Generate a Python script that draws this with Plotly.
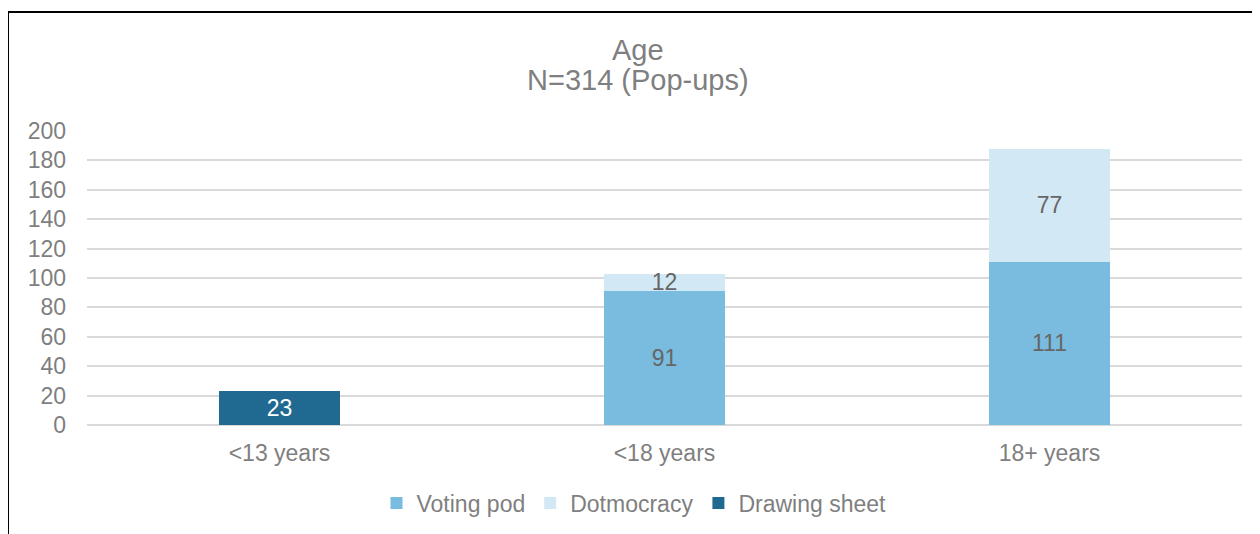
import plotly.graph_objects as go

categories = ["<13 years", "<18 years", "18+ years"]
voting_pod = [None, 91, 111]
dotmocracy = [None, 12, 77]
drawing_sheet = [23, None, None]
y_ticks = [0, 20, 40, 60, 80, 100, 120, 140, 160, 180, 200]
title_lines = ["Age", "N=314 (Pop-ups)"]

FONT = "Liberation Sans, Arial, sans-serif"
GRAY = "#7F7F7F"

fig = go.Figure()
series = [
    ("Voting pod", voting_pod, "#7ABCE0", "#666666"),
    ("Dotmocracy", dotmocracy, "#D3E8F5", "#666666"),
    ("Drawing sheet", drawing_sheet, "#206A92", "#FFFFFF"),
]
for name, vals, color, tcolor in series:
    fig.add_trace(go.Bar(
        x=categories, y=vals, name=name,
        marker=dict(color=color, line=dict(width=0)),
        text=[("" if v is None else str(v)) for v in vals],
        textposition="inside", insidetextanchor="middle",
        constraintext="none", textangle=0,
        textfont=dict(family=FONT, size=23, color=tcolor),
        hoverinfo="skip",
    ))

# page has an 8px body margin, so the figure is sized to fill the rest
W, H = 1252, 526
L, R, T, B = 79, 18, 123, 109
pw, ph = W - L - R, H - T - B

fig.update_layout(
    width=W, height=H,
    margin=dict(l=L, r=R, t=T, b=B),
    barmode="stack", bargap=0.686,
    paper_bgcolor="white", plot_bgcolor="white",
    font=dict(family=FONT, color=GRAY, size=23),
    xaxis=dict(
        showgrid=False, showline=False, ticks="",
        tickfont=dict(family=FONT, size=23, color=GRAY),
        ticklabelstandoff=12,
    ),
    yaxis=dict(
        range=[0, 200], tickvals=y_ticks,
        showgrid=True, gridcolor="#D9D9D9", gridwidth=2,
        zeroline=True, zerolinecolor="#D9D9D9", zerolinewidth=2,
        showline=False, ticks="",
        tickfont=dict(family=FONT, size=23, color=GRAY),
        ticklabelstandoff=20,
    ),
    legend=dict(
        orientation="h", traceorder="normal",
        x=0.5, xref="container", xanchor="center",
        y=1 - 495 / H, yref="container", yanchor="middle",
        font=dict(family=FONT, size=23, color=GRAY),
        itemwidth=30, itemclick=False,
    ),
    showlegend=True,
)

# two-line title placed as annotations (tighter line spacing than title)
for txt, ypix in zip(title_lines, [42, 72]):
    fig.add_annotation(
        text=txt, showarrow=False,
        xref="paper", yref="paper",
        x=(W / 2 + 4 - L) / pw, y=(H - B - ypix) / ph,
        xanchor="center", yanchor="middle",
        font=dict(family=FONT, size=29, color=GRAY),
    )

# outer chart border (left and top visible in the frame)
fig.add_shape(
    type="rect", xref="paper", yref="paper",
    x0=(0 - L) / pw, x1=(W + 20 - L) / pw,
    y0=-(B + 20) / ph, y1=(H - 4 - B) / ph,
    line=dict(color="black", width=2), fillcolor="rgba(0,0,0,0)",
    layer="above",
)

fig.write_html("out.html")
